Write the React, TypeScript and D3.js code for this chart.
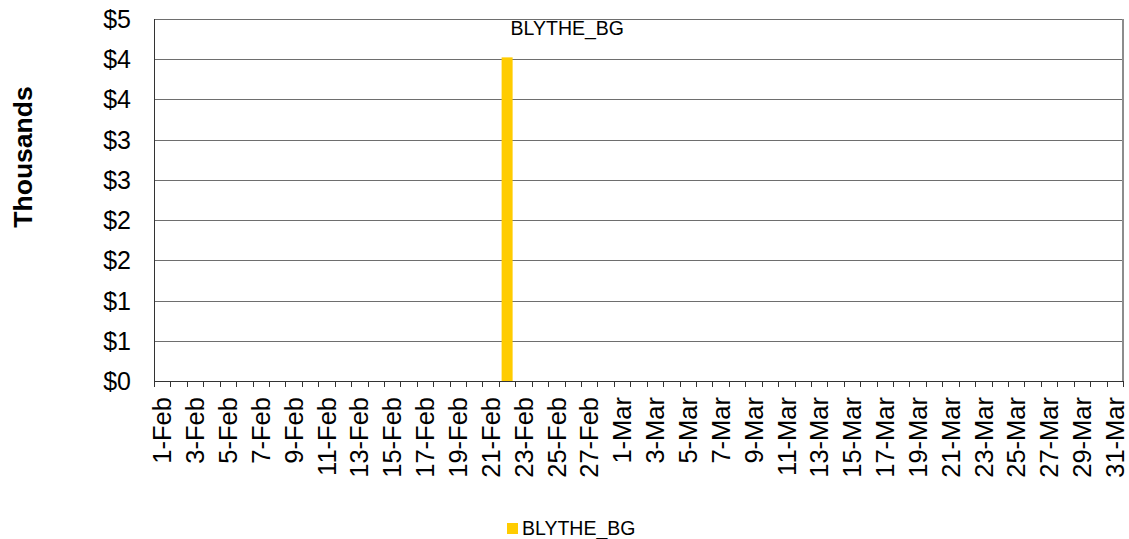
import React from "react";
import * as d3 from "d3";

const categories: string[] = [
  "1-Feb","2-Feb","3-Feb","4-Feb","5-Feb","6-Feb","7-Feb","8-Feb","9-Feb","10-Feb",
  "11-Feb","12-Feb","13-Feb","14-Feb","15-Feb","16-Feb","17-Feb","18-Feb","19-Feb","20-Feb",
  "21-Feb","22-Feb","23-Feb","24-Feb","25-Feb","26-Feb","27-Feb","28-Feb",
  "1-Mar","2-Mar","3-Mar","4-Mar","5-Mar","6-Mar","7-Mar","8-Mar","9-Mar","10-Mar",
  "11-Mar","12-Mar","13-Mar","14-Mar","15-Mar","16-Mar","17-Mar","18-Mar","19-Mar","20-Mar",
  "21-Mar","22-Mar","23-Mar","24-Mar","25-Mar","26-Mar","27-Mar","28-Mar","29-Mar","30-Mar","31-Mar",
];

// BLYTHE_BG values, in thousands of dollars
const blytheBG: number[] = [
  0,0,0,0,0,0,0,0,0,0,
  0,0,0,0,0,0,0,0,0,0,
  0,4.47,0,0,0,0,0,0,
  0,0,0,0,0,0,0,0,0,0,
  0,0,0,0,0,0,0,0,0,0,
  0,0,0,0,0,0,0,0,0,0,0,
];

const seriesName = "BLYTHE_BG";
const yMax = 5;
const yTickValues: number[] = [0, 0.5556, 1.1111, 1.6667, 2.2222, 2.7778, 3.3333, 3.8889, 4.4444, 5];
const yTickLabels: string[] = ["$0", "$1", "$1", "$2", "$2", "$3", "$3", "$4", "$4", "$5"];
const yTitle = "Thousands";

const W = 1129;
const H = 539;
const plot = { left: 154, right: 1123, top: 19, bottom: 381 };

export default function App() {
  const x = d3
    .scaleBand<string>()
    .domain(categories)
    .range([plot.left, plot.right])
    .paddingInner(0.33)
    .paddingOuter(0.165);
  const step = (plot.right - plot.left) / categories.length;
  const y = d3.scaleLinear().domain([0, yMax]).range([plot.bottom, plot.top]);
  const font = "'Liberation Sans', Arial, sans-serif";
  const peakIdx = blytheBG.indexOf(d3.max(blytheBG) as number);

  return (
    <svg
      width={W}
      height={H}
      style={{ position: "absolute", left: 0, top: 0, background: "#fff" }}
      fontFamily={font}
    >
      {/* gridlines */}
      {yTickValues.slice(1).map((v) => (
        <line
          key={"g" + v}
          x1={plot.left}
          x2={plot.right}
          y1={Math.round(y(v)) + 0.5}
          y2={Math.round(y(v)) + 0.5}
          stroke="#6e6e6e"
          strokeWidth={1}
        />
      ))}
      {/* right border */}
      <line x1={plot.right} x2={plot.right} y1={plot.top} y2={plot.bottom} stroke="#8c8c8c" strokeWidth={2} />
      {/* bars */}
      {blytheBG.map((v, i) =>
        v > 0 ? (
          <rect
            key={"b" + i}
            x={x(categories[i])}
            width={x.bandwidth()}
            y={y(v)}
            height={y(0) - y(v)}
            fill="#FFCC00"
          />
        ) : null
      )}
      {/* data label */}
      <text
        x={(x(categories[peakIdx]) as number) + x.bandwidth() - 2}
        y={35}
        fontSize={19.5}
        fill="#000"
      >
        {seriesName}
      </text>
      {/* y axis */}
      <line x1={plot.left + 0.5} x2={plot.left + 0.5} y1={plot.top} y2={plot.bottom} stroke="#333" strokeWidth={1} />
      {yTickValues.map((v, i) => (
        <text
          key={"yl" + v}
          x={131}
          y={y(v)}
          dy="0.36em"
          textAnchor="end"
          fontSize={25}
          fill="#000"
        >
          {yTickLabels[i]}
        </text>
      ))}
      {/* x axis */}
      <line x1={plot.left} x2={plot.right} y1={plot.bottom + 0.5} y2={plot.bottom + 0.5} stroke="#333" strokeWidth={1} />
      {d3.range(categories.length + 1).map((i) => {
        const xx = Math.round(plot.left + i * step) + 0.5;
        return <line key={"t" + i} x1={xx} x2={xx} y1={plot.bottom} y2={plot.bottom + 6} stroke="#333" strokeWidth={1} />;
      })}
      {categories.map((c, i) =>
        i % 2 === 0 ? (
          <text
            key={"xl" + c}
            transform={`translate(${(x(c) as number) + x.bandwidth() / 2},397) rotate(-90)`}
            dy="0.36em"
            textAnchor="end"
            fontSize={25.5}
            fill="#000"
          >
            {c}
          </text>
        ) : null
      )}
      {/* y title */}
      <text
        transform={`translate(22,157) rotate(-90)`}
        dy="0.36em"
        textAnchor="middle"
        fontSize={26.5}
        fontWeight="bold"
        fill="#000"
      >
        {yTitle}
      </text>
      {/* legend */}
      <rect x={507} y={523} width={11} height={11} fill="#FFCC00" />
      <text x={522} y={535} fontSize={19.5} fill="#000">
        {seriesName}
      </text>
    </svg>
  );
}
